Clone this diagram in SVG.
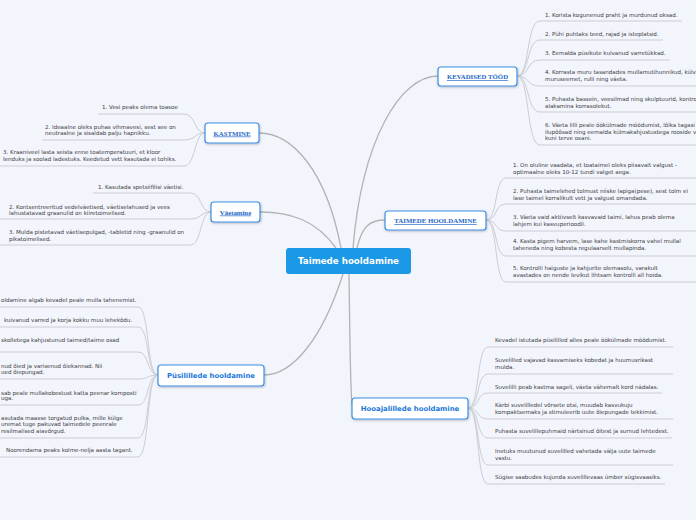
<svg xmlns="http://www.w3.org/2000/svg" width="696" height="520" viewBox="0 0 696 520">
<style>
.t{font-family:"DejaVu Sans",Verdana,sans-serif;font-size:5.55px;fill:#3a3a3a}
.c{fill:none;stroke:#b3b3b3;stroke-width:1.3}
.l{fill:none;stroke:#cbccd4;stroke-width:1}
.box{fill:#fff;stroke:#3d8fe3;stroke-width:1.2;filter:url(#sh)}
.sl{font-family:"Liberation Serif","Times New Roman",serif;font-weight:bold;font-size:6.8px;fill:#2466c8;text-decoration:underline;text-anchor:middle}
.bl{font-family:"DejaVu Sans",Verdana,sans-serif;font-weight:bold;font-size:6.9px;fill:#1b78d8;text-anchor:middle}
</style>
<defs>
<filter id="sh" x="-10%" y="-30%" width="120%" height="160%"><feDropShadow dx="0.5" dy="1" stdDeviation="0.8" flood-color="#000" flood-opacity="0.25"/></filter>
</defs>
<rect width="696" height="520" fill="#f3f5fd"/>
<g id="connectors">
<path class="c" d="M353 248 C362 140 400 76 438 76"/>
<path class="c" d="M357 248 C362 226 370 220 385 220"/>
<path class="c" d="M341 248 C326 170 292 133 259 133"/>
<path class="c" d="M336 248 C316 220 290 212 260 212"/>
<path class="c" d="M343 274 C322 340 292 375 264 375"/>
<path class="c" d="M349 274 C350 340 350 380 352 405"/>
<path class="l" d="M517 76 C530 76 526 21 540 21 H682"/>
<path class="l" d="M517 76 C530 76 526 40 540 40 H663"/>
<path class="l" d="M517 76 C530 76 526 60 540 60 H670"/>
<path class="l" d="M517 76 C530 76 526 86 540 86 H696"/>
<path class="l" d="M517 76 C530 76 526 112 540 112 H696"/>
<path class="l" d="M517 76 C530 76 526 145 540 145 H696"/>
<path class="l" d="M486 220 C498 220 494 178 506 178 H696"/>
<path class="l" d="M486 220 C498 220 494 204 506 204 H696"/>
<path class="l" d="M486 220 C498 220 494 231 506 231 H696"/>
<path class="l" d="M486 220 C498 220 494 256 506 256 H696"/>
<path class="l" d="M486 220 C498 220 494 282 506 282 H696"/>
<path class="l" d="M468 408 C480 408 476 347 488 347 H673"/>
<path class="l" d="M468 408 C480 408 476 374 488 374 H673"/>
<path class="l" d="M468 408 C480 408 476 393 488 393 H662"/>
<path class="l" d="M468 408 C480 408 476 419 488 419 H673"/>
<path class="l" d="M468 408 C480 408 476 438 488 438 H672"/>
<path class="l" d="M468 408 C480 408 476 465 488 465 H673"/>
<path class="l" d="M468 408 C480 408 476 484 488 484 H665"/>
<path class="l" d="M205 133 C194 133 196 114 184 114 H98"/>
<path class="l" d="M205 133 C194 133 196 140 184 140 H42"/>
<path class="l" d="M205 133 C194 133 196 166 184 166 H0"/>
<path class="l" d="M211 212 C200 212 202 193 190 193 H93"/>
<path class="l" d="M211 212 C200 212 202 219 190 219 H0"/>
<path class="l" d="M211 212 C200 212 202 245 190 245 H0"/>
<path class="l" d="M158 375 C146 375 150 307 138 307 H0"/>
<path class="l" d="M158 375 C146 375 150 327 138 327 H0"/>
<path class="l" d="M158 375 C146 375 150 352 138 352 H0"/>
<path class="l" d="M158 375 C146 375 150 379 138 379 H0"/>
<path class="l" d="M158 375 C146 375 150 405 138 405 H0"/>
<path class="l" d="M158 375 C146 375 150 438 138 438 H0"/>
<path class="l" d="M158 375 C146 375 150 457 138 457 H0"/>
</g>
<g id="central">
<rect x="286" y="248" width="125" height="26" rx="3" fill="#1b98e6"/>
<text x="348.5" y="264.3" text-anchor="middle" font-family="DejaVu Sans,Verdana,sans-serif" font-weight="bold" font-size="8.7" fill="#fff">Taimede hooldamine</text>
</g>
<g id="kevadised">
<rect class="box" x="438" y="67" width="79" height="19" rx="3"/>
<text class="sl" x="477.5" y="79">KEVADISED TÖÖD</text>
</g>
<g id="kastmine">
<rect class="box" x="205" y="123" width="54" height="20" rx="3"/>
<text class="sl" x="232" y="135.5">KASTMINE</text>
</g>
<g id="vaetamine">
<rect class="box" x="211" y="202" width="49" height="20" rx="3"/>
<text class="sl" x="235.5" y="214.5">Väetamine</text>
</g>
<g id="taimede">
<rect class="box" x="385" y="211" width="101" height="19" rx="3"/>
<text class="sl" x="435.5" y="223">TAIMEDE HOOLDAMINE</text>
</g>
<g id="pusililled">
<rect class="box" x="158" y="365" width="106" height="21" rx="3"/>
<text class="bl" x="211" y="378">Püsilillede hooldamine</text>
</g>
<g id="hooaja">
<rect class="box" x="352" y="398" width="116" height="21" rx="3"/>
<text class="bl" x="410" y="411">Hooajalillede hooldamine</text>
</g>
<g id="kev-leaves">
<text class="t" x="545" y="17">1. Korista kogunenud praht ja murdunud oksad.</text>
<text class="t" x="545" y="36">2. Pühi puhtaks teed, rajad ja isteplatsid.</text>
<text class="t" x="545" y="55">3. Eemalda püsikute kuivanud varretükkad.</text>
<text class="t" x="545" y="74">4. Korrasta muru tasandades mullamutihunnikud, külv</text>
<text class="t" x="545" y="81">muruseemet, rulli ning väeta.</text>
<text class="t" x="545" y="101">5. Puhasta bassein, veesilmad ning skulptuurid, kontro</text>
<text class="t" x="545" y="108">alakamina korrasolekut.</text>
<text class="t" x="545" y="127">6. Väeta lilli peale öökülmade möödumist, lõika tagasi</text>
<text class="t" x="545" y="134">ilupõõsad ning eemalda külmakahjustustega rooside v</text>
<text class="t" x="545" y="140">kuni terve osani.</text>
</g>
<g id="tai-leaves">
<text class="t" x="513" y="167">1. On oluline vaadata, et toataimel oleks piisavalt valgust -</text>
<text class="t" x="513" y="174">optimaalne oleks 10-12 tundi valget aega.</text>
<text class="t" x="513" y="193">2. Puhasta taimelehed tolmust niiske lapiga(pese), sest tolm ei</text>
<text class="t" x="513" y="200">lase taimel korralikult vett ja valgust omandada.</text>
<text class="t" x="513" y="219">3. Väeta vaid aktiivselt kasvavaid taimi, lahus peab olema</text>
<text class="t" x="513" y="226">lahjem kui kasvuperioodil.</text>
<text class="t" x="513" y="243">4. Kasta pigem harvem, lase kahe kastmiskorra vahel mullal</text>
<text class="t" x="513" y="250">taheneda ning kobesta regulaarselt mullapinda.</text>
<text class="t" x="513" y="270">5. Kontrolli haiguste ja kahjurite olemasolu, varakult</text>
<text class="t" x="513" y="277">avastades on nende levikut lihtsam kontrolli all hoida.</text>
</g>
<g id="hoo-leaves">
<text class="t" x="495" y="342">Kevadel istutada püsililled alles peale öökülmade möödumist.</text>
<text class="t" x="495" y="362">Suvelilled vajavad kasvamiseks kobedat ja huumusrikast</text>
<text class="t" x="495" y="369">mulda.</text>
<text class="t" x="495" y="389">Suvelilli peab kastma sageli, väeta vähemalt kord nädalas.</text>
<text class="t" x="495" y="407">Kärbi suvelilledel võrsete otsi, muudab kasvukuju</text>
<text class="t" x="495" y="414">kompaktsemaks ja stimuleerib uute õiepungade tekkimist.</text>
<text class="t" x="495" y="433">Puhasta suvelillepuhmaid närtsinud õitest ja surnud lehtedest.</text>
<text class="t" x="495" y="453">Inetuks muutunud suvelilled vahetada välja uute taimede</text>
<text class="t" x="495" y="460">vastu.</text>
<text class="t" x="495" y="479">Sügise saabudes kujunda suvelillevaas ümber sügisvaasiks.</text>
</g>
<g id="kas-leaves">
<text class="t" x="102" y="109">1. Vesi peaks olema toasoe</text>
<text class="t" x="45" y="129">2. Ideaalne oleks puhas vihmavesi, sest see on</text>
<text class="t" x="45" y="135">neutraalne ja sisaldab palju hapnikku.</text>
<text class="t" x="3" y="154">3. Kraaniveel lasta seista enne toatemperatuuri, et kloor</text>
<text class="t" x="3" y="161">lenduks ja soolad ladestuks. Keedetud vett kasutada ei tohiks.</text>
</g>
<g id="vae-leaves">
<text class="t" x="98" y="189">1. Kasutada spetsiifilisi väetisi.</text>
<text class="t" x="9" y="209">2. Kontsentreeritud vedelväetised, väetiselahused ja vees</text>
<text class="t" x="9" y="215">lahustatavad graanulid on kiiretoimelised.</text>
<text class="t" x="9" y="234">3. Mulda pistetavad väetisepulgad, -tabletid ning -graanulid on</text>
<text class="t" x="9" y="241">pikatoimelised.</text>
</g>
<g id="pus-leaves">
<text class="t" x="1" y="302">oldamine algab kevadel peale mulla tahenemist.</text>
<text class="t" x="4" y="322">kuivanud varred ja korja kokku muu lehekõdu.</text>
<text class="t" x="1" y="342">skolletega kahjustunud taimed/taime osad</text>
<text class="t" x="1" y="368">nud õied ja varisenud õiekannad. Nii</text>
<text class="t" x="1" y="374">ued  õiepungad.</text>
<text class="t" x="1" y="395">sab peale mullakobestust katta peenar komposti</text>
<text class="t" x="1" y="400">uga.</text>
<text class="t" x="1" y="420">asutada maasse torgatud pulka, mille külge</text>
<text class="t" x="1" y="426">uremat tuge pakuvad taimedele peenrale</text>
<text class="t" x="1" y="433">resilmalised aiavõrgud.</text>
<text class="t" x="6" y="452">Noorendama peaks kolme-nelja aasta tagant.</text>
</g>
</svg>
